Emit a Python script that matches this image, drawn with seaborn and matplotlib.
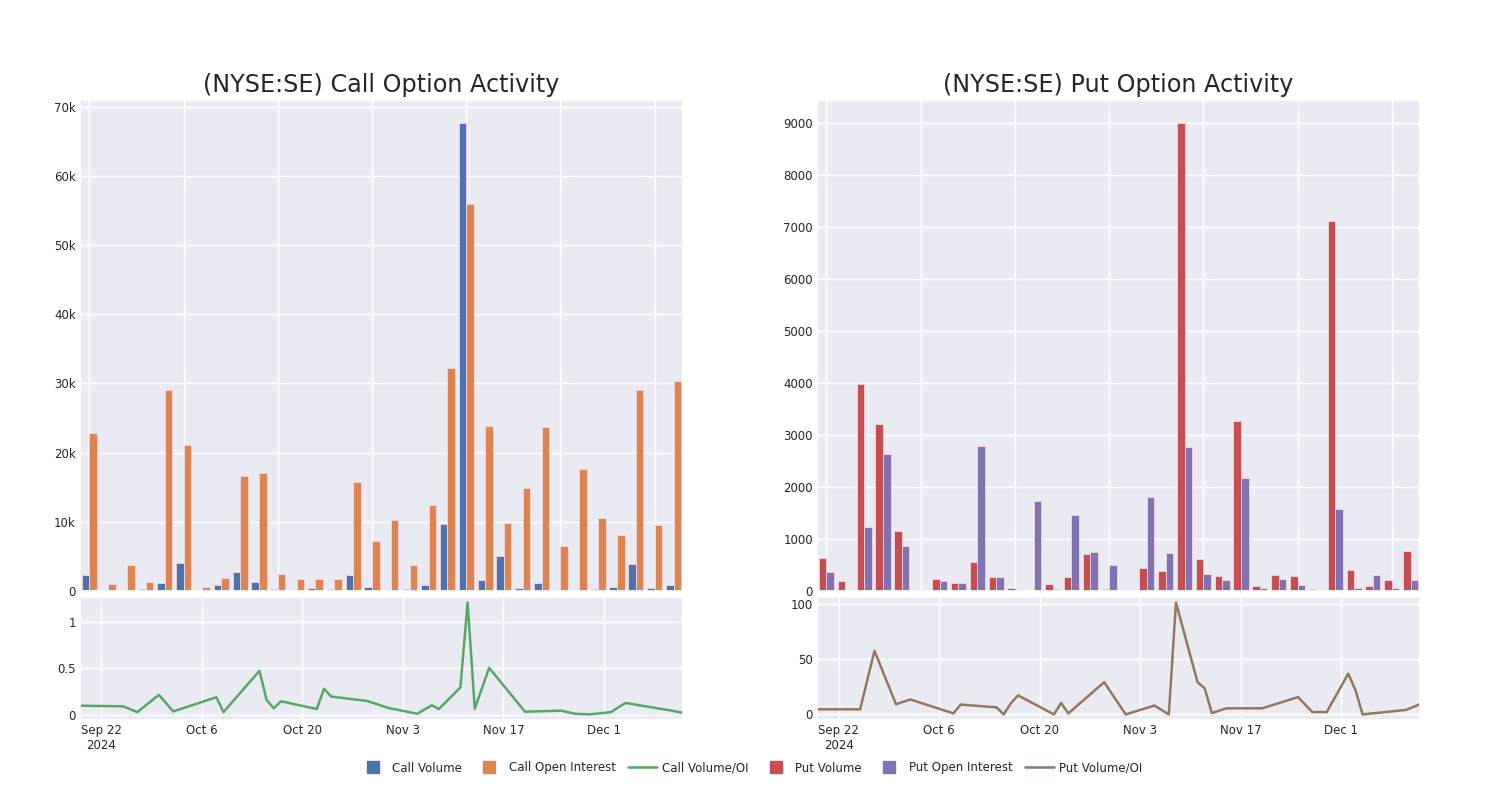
import pandas as pd
import seaborn as sns
import matplotlib.pyplot as plt
from matplotlib.lines import Line2D
from matplotlib.ticker import FuncFormatter, MultipleLocator

# trading days with option activity
dates = ['2024-09-19', '2024-09-25', '2024-09-27', '2024-09-30', '2024-10-02',
         '2024-10-08', '2024-10-09', '2024-10-14', '2024-10-15', '2024-10-16',
         '2024-10-17', '2024-10-22', '2024-10-23', '2024-10-24', '2024-10-29',
         '2024-11-01', '2024-11-05', '2024-11-07', '2024-11-08', '2024-11-11',
         '2024-11-12', '2024-11-13', '2024-11-15', '2024-11-20', '2024-11-25',
         '2024-11-27', '2024-11-29', '2024-12-02', '2024-12-03', '2024-12-04',
         '2024-12-10', '2024-12-12']

call_volume = [2370, 100, 100, 300, 1200, 4060, 0, 920, 2700, 1260,
               340, 100, 480, 340, 2370, 530, 150, 340, 820, 9660,
               67600, 1550, 5000, 480, 1200, 100, 150, 340, 630, 3900,
               430, 820]
call_oi = [22900, 970, 3800, 1260, 29100, 21100, 630, 1930, 16600, 17000,
           2500, 1700, 1800, 1800, 15700, 7300, 10300, 3800, 12500, 32200,
           56000, 23900, 9800, 14900, 23700, 6500, 17600, 10500, 8100, 29100,
           9600, 30400]
call_ratio = [0.098, 0.091, 0.029, 0.215, 0.036, 0.189, 0.029, 0.473, 0.16, 0.069,
              0.145, 0.062, 0.28, 0.196, 0.149, 0.073, 0.011, 0.102, 0.062, 0.295,
              1.207, 0.065, 0.505, 0.033, 0.044, 0.011, 0.004, 0.029, 0.08, 0.127,
              0.05, 0.022]

put_volume = [637, 193, 3974, 3215, 1145, 6, 231, 161, 553, 264,
              64, 26, 129, 276, 707, 39, 19, 444, 379, 8996,
              624, 296, 3266, 90, 302, 296, 32, 7112, 405, 90,
              219, 772]
put_oi = [360, 26, 1222, 2643, 874, 26, 193, 161, 2784, 270,
          13, 1723, 39, 1460, 759, 508, 0, 1807, 733, 2778,
          328, 206, 2167, 51, 231, 116, 13, 1569, 51, 302,
          51, 212]
put_ratio = [4.6, 4.6, 57.4, 9.2, 13.5, 0.9, 8.9, 6.4, 0, 10.1,
             17.2, 0, 10.4, 0.9, 29.1, 0, 8, 0, 101, 29.1,
             23.6, 1.2, 5.5, 5.5, 15.6, 2.1, 2.1, 36.8, 22, 0,
             4, 9.2]

tick_dates = ['2024-09-22', '2024-10-06', '2024-10-20', '2024-11-03',
              '2024-11-17', '2024-12-01']
tick_labels = ['Sep 22\n2024', 'Oct 6', 'Oct 20', 'Nov 3', 'Nov 17', 'Dec 1']


def k_format(v, pos):
    if v == 0:
        return '0'
    return '{:g}k'.format(v / 1000)


def draw_side(fig, left, name, vol, oi, ratio, colors, ratio_ticks, kfmt):
    # bar chart on top, volume/oi line below
    ax_bar = fig.add_axes([left, 0.26125, 0.402, 0.61375])
    ax_line = fig.add_axes([left, 0.1, 0.402, 0.15375])

    df = pd.DataFrame({'date': dates * 2,
                       'value': vol + oi,
                       'kind': ['Volume'] * len(dates) + ['Open Interest'] * len(dates)})
    sns.barplot(data=df, x='date', y='value', hue='kind', palette=colors[:2],
                saturation=1, edgecolor='#f4d8dc', linewidth=0.6,
                legend=False, ax=ax_bar)
    ax_bar.set_xticks(range(0, len(dates), 5))
    ax_bar.set_xticklabels([])
    ax_bar.set_xlabel('')
    ax_bar.set_ylabel('')
    ax_bar.grid(True, axis='both')
    if kfmt:
        ax_bar.yaxis.set_major_formatter(FuncFormatter(k_format))
    else:
        ax_bar.yaxis.set_major_locator(MultipleLocator(1000))
    ax_bar.tick_params(length=0, labelsize=8.5, pad=3)
    ax_bar.set_title('(NYSE:SE) ' + name + ' Option Activity', fontsize=17.2)

    line_df = pd.DataFrame({'date': pd.to_datetime(dates), 'ratio': ratio})
    sns.lineplot(data=line_df, x='date', y='ratio', color=colors[2],
                 linewidth=1.8, ax=ax_line)
    ax_line.set_xlim(line_df['date'].min(), line_df['date'].max())
    ax_line.set_xticks(pd.to_datetime(tick_dates))
    ax_line.set_xticklabels(tick_labels)
    ax_line.set_yticks(ratio_ticks)
    ax_line.set_yticklabels(['{:g}'.format(t) for t in ratio_ticks])
    ax_line.tick_params(length=0, labelsize=8.5, pad=3)
    ax_line.set_xlabel('')
    ax_line.set_ylabel('')


def main():
    sns.set_theme(style='darkgrid')
    fig = plt.figure(figsize=(15, 8), dpi=100)

    call_colors = ['#4C72B0', '#DD8452', '#55A868']
    put_colors = ['#C44E52', '#8172B3', '#937860']

    draw_side(fig, 0.0533, 'Call', call_volume, call_oi, call_ratio,
              call_colors, [0, 0.5, 1], True)
    draw_side(fig, 0.5447, 'Put', put_volume, put_oi, put_ratio,
              put_colors, [0, 50, 100], False)

    # one shared legend under both charts
    def square(c, label):
        return Line2D([], [], color=c, marker='s', markersize=8.5,
                      linestyle='none', label=label)

    handles = [square(call_colors[0], 'Call Volume'),
               square(call_colors[1], 'Call Open Interest'),
               Line2D([], [], color=call_colors[2], lw=1.8, label='Call Volume/OI'),
               square(put_colors[0], 'Put Volume'),
               square(put_colors[1], 'Put Open Interest'),
               Line2D([], [], color=put_colors[2], lw=1.8, label='Put Volume/OI')]
    fig.legend(handles=handles, loc='center', bbox_to_anchor=(0.5, 0.04),
               ncol=6, frameon=False, fontsize=8.5, handlelength=2.5,
               handletextpad=0.4, columnspacing=1.05)

    plt.savefig('out.png', dpi=100)


if __name__ == "__main__":
    main()
